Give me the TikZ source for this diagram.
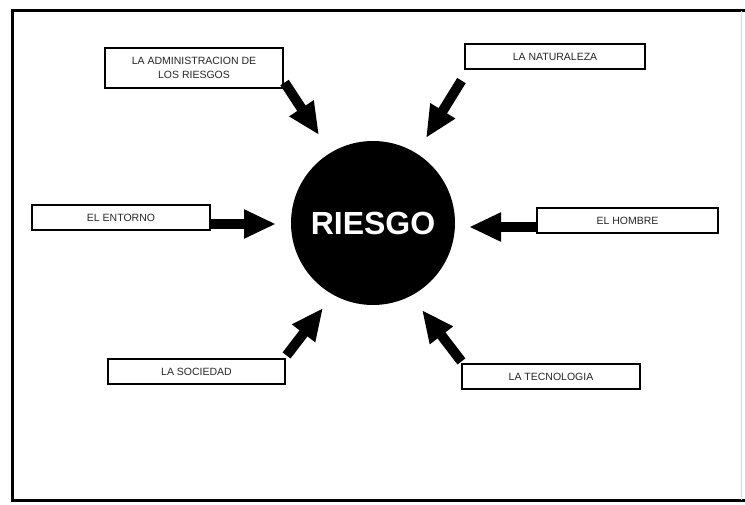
\documentclass[tikz,border=0pt]{standalone}
\usepackage{fontspec}
\setmainfont{Liberation Sans}
\usetikzlibrary{arrows.meta,calc}
\begin{document}
\begin{tikzpicture}[x=1pt,y=-1pt,
  factor/.style={draw=black,line width=1.1pt,fill=white,inner sep=0pt,
    align=center,font=\fontsize{10.5}{13.5}\selectfont,text=black!85},
  bigarrow/.style={line width=10pt,-{Triangle[length=32pt,width=27pt]}},
  frameline/.style={line width=3pt,line cap=rect}]
  \useasboundingbox (0,0) rectangle (745,505);
  \fill[white] (0,0) rectangle (745,505);

  % outer frame
  \draw[frameline] (745,11) -- (12,11) -- (12,500) -- (745,500);
  \draw[black!15,line width=0.6pt] (741,11) -- (741,500);

  % central circle
  \node[circle,fill=black,minimum size=164pt,inner sep=0pt,
        font=\fontsize{32}{36}\selectfont\bfseries,text=white] (r) at (373,223) {RIESGO};

  % surrounding factors
  \node[factor,minimum width=178pt,minimum height=40pt] (adm) at (194,68)
    {LA ADMINISTRACION DE\\LOS RIESGOS};
  \node[factor,minimum width=180pt,minimum height=25pt] (nat) at (555,56.5) {LA NATURALEZA};
  \node[factor,minimum width=178pt,minimum height=25pt] (ent) at (121,217.5) {EL ENTORNO};
  \node[factor,minimum width=181pt,minimum height=25pt] (hom) at (627.5,220.5) {EL HOMBRE};
  \node[factor,minimum width=177pt,minimum height=25pt] (soc) at (196.5,371.5) {LA SOCIEDAD};
  \node[factor,minimum width=178pt,minimum height=25pt] (tec) at (551,376.5) {LA TECNOLOGIA};

  % arrow tips near the circle
  \coordinate (tadm) at (319,135);
  \coordinate (tnat) at (426,138);
  \coordinate (tent) at (276,224);
  \coordinate (thom) at (469,227);
  \coordinate (tsoc) at (323,308);
  \coordinate (ttec) at (422,310);

  % arrows pointing to the circle
  \draw[bigarrow] ($(adm.south east)+(1,-6)$) -- (tadm);
  \draw[bigarrow] ($(nat.south west)+(-3,11)$) -- (tnat);
  \draw[bigarrow] (ent.east |- tent) -- (tent);
  \draw[bigarrow] (hom.west |- thom) -- (thom);
  \draw[bigarrow] ($(soc.north east)+(1,-3)$) -- (tsoc);
  \draw[bigarrow] ($(tec.north west)+(0,-2)$) -- (ttec);
\end{tikzpicture}
\end{document}
